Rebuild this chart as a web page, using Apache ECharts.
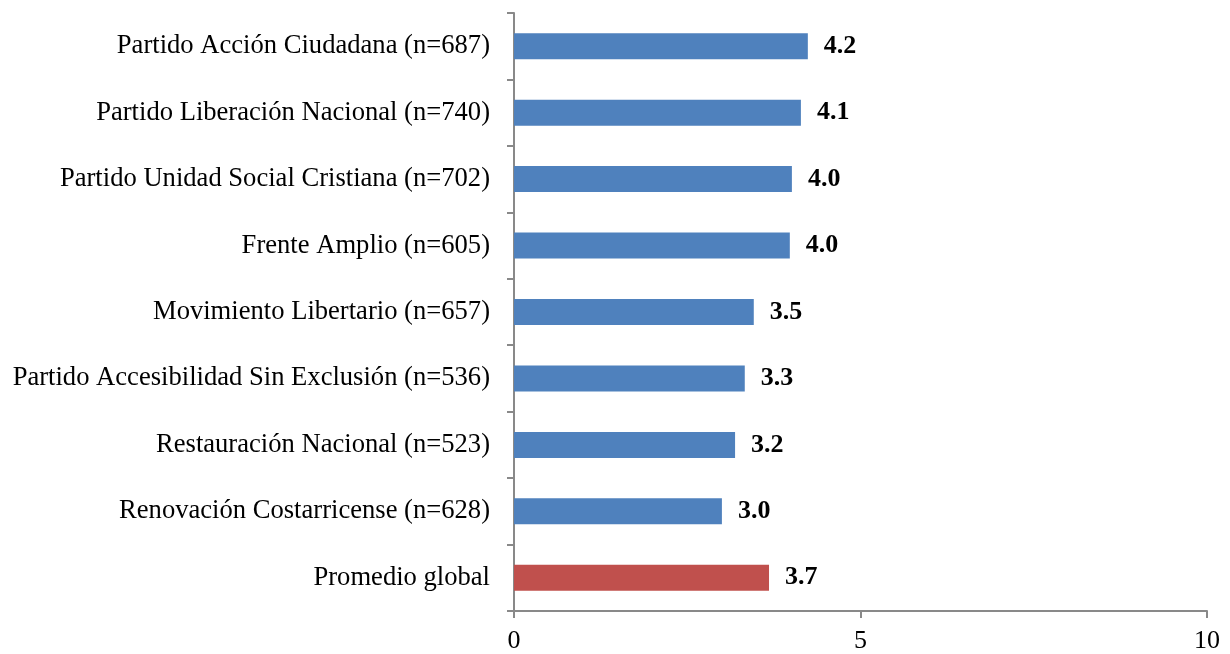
<!DOCTYPE html>
<html lang="es">
<head>
    <meta charset="UTF-8">
    <script src="https://cdn.jsdelivr.net/npm/echarts@6/dist/echarts.min.js"></script>
    <title>Promedio por partido</title>
    <style>
        html, body { margin: 0; padding: 0; background: #fff; }
        #chart { width: 1230px; height: 654px; }
    </style>
</head>
<body>
<div id="chart"></div>
<script>
    // categorias de arriba hacia abajo
    var categories = [
        'Partido Acción Ciudadana (n=687)',
        'Partido Liberación Nacional (n=740)',
        'Partido Unidad Social Cristiana (n=702)',
        'Frente Amplio (n=605)',
        'Movimiento Libertario (n=657)',
        'Partido Accesibilidad Sin Exclusión (n=536)',
        'Restauración Nacional (n=523)',
        'Renovación Costarricense (n=628)',
        'Promedio global'
    ];
    var values = [4.24, 4.14, 4.01, 3.98, 3.46, 3.33, 3.19, 3.00, 3.68];
    var xTicks = [0, 5, 10];

    var blue = '#4F81BD';
    var red = '#C0504D';
    var axisGray = '#898989';
    var font = '"Liberation Serif", "Times New Roman", serif';

    var myChart = echarts.init(document.getElementById('chart'));

    var option = {
        animation: false,
        grid: { left: 514, right: 23, top: 13, bottom: 39, containLabel: false },
        xAxis: {
            type: 'value',
            min: xTicks[0],
            max: xTicks[xTicks.length - 1],
            interval: xTicks[1] - xTicks[0],
            splitLine: { show: false },
            axisLine: { show: true, lineStyle: { color: axisGray, width: 2 } },
            axisTick: { show: true, length: 7, lineStyle: { color: axisGray, width: 2 } },
            axisLabel: { color: '#000', fontFamily: font, fontSize: 26, margin: 17 }
        },
        yAxis: {
            type: 'category',
            data: categories,
            inverse: true,
            axisLine: { show: true, lineStyle: { color: axisGray, width: 2 } },
            axisTick: { show: true, length: 7, lineStyle: { color: axisGray, width: 2 } },
            axisLabel: { color: '#000', fontFamily: font, fontSize: 26.6, margin: 24 }
        },
        series: [{
            type: 'bar',
            barWidth: 26,
            data: values.map(function (v, i) {
                return {
                    value: v,
                    itemStyle: { color: i === values.length - 1 ? red : blue }
                };
            }),
            label: {
                show: true,
                position: 'right',
                distance: 16,
                color: '#000',
                fontFamily: font,
                fontSize: 26,
                fontWeight: 'bold',
                formatter: function (p) { return p.value.toFixed(1); }
            }
        }]
    };
    myChart.setOption(option);
</script>
</body>
</html>
